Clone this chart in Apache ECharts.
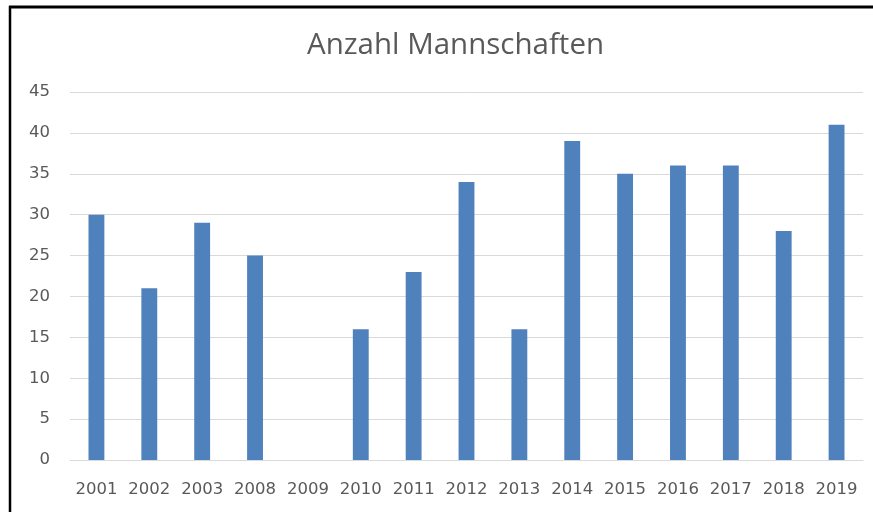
<!DOCTYPE html>
<html>
<head>
<meta charset="utf-8">
<script src="https://cdn.jsdelivr.net/npm/echarts@6/dist/echarts.min.js"></script>
<style>html,body{margin:0;padding:0;background:#fff;}#c{width:873px;height:512px;}</style>
</head>
<body>
<div id="c"></div>
<script>
const titleText = 'Anzahl Mannschaften';
const categories = ['2001','2002','2003','2008','2009','2010','2011','2012','2013','2014','2015','2016','2017','2018','2019'];
const values = [30,21,29,25,0,16,23,34,16,39,35,36,36,28,41];
const yTicks = {min:0, max:45, interval:5};

const chart = echarts.init(document.getElementById('c'), null, {renderer:'canvas'});
chart.setOption({
  backgroundColor:'#ffffff',
  animation:false,
  title:{
    text:titleText, left:302, top:26,
    textStyle:{fontFamily:'Open Sans', fontSize:29.5, fontWeight:'normal', color:'#595959'}
  },
  grid:{left:70, right:10, top:92, bottom:52, containLabel:false},
  xAxis:{
    type:'category', data:categories,
    axisLine:{show:true, lineStyle:{color:'#d9d9d9', width:1}},
    axisTick:{show:false},
    axisLabel:{fontFamily:'DejaVu Sans', fontSize:16.5, color:'#595959', margin:21, interval:0}
  },
  yAxis:{
    type:'value', min:yTicks.min, max:yTicks.max, interval:yTicks.interval,
    axisLine:{show:false}, axisTick:{show:false},
    splitLine:{lineStyle:{color:'#d9d9d9', width:1}},
    axisLabel:{fontFamily:'DejaVu Sans', fontSize:16.5, color:'#595959', margin:20}
  },
  series:[{
    type:'bar', data:values, barWidth:'30%',
    itemStyle:{color:'#4f81bd'}
  }],
  graphic:[
    {type:'line', shape:{x1:9, y1:7, x2:873, y2:7}, style:{stroke:'#000', lineWidth:3}},
    {type:'line', shape:{x1:10, y1:6, x2:10, y2:512}, style:{stroke:'#000', lineWidth:2.5}}
  ]
});
</script>
</body>
</html>
